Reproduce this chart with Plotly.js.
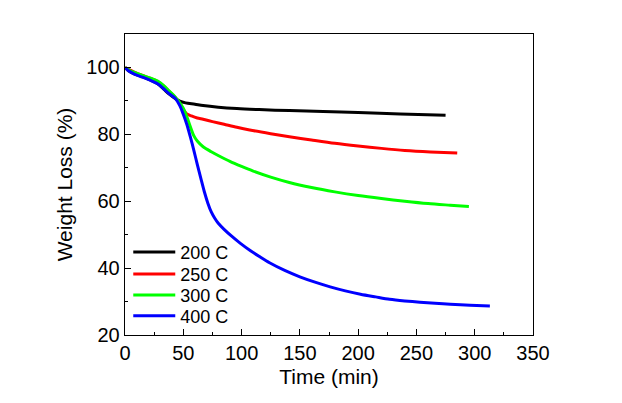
<!DOCTYPE html>
<html>
<head>
<meta charset="utf-8">
<script src="https://cdn.plot.ly/plotly-3.0.1.min.js"></script>
<style>html,body{margin:0;padding:0;background:#fff;}#chart{width:622px;height:403px;}</style>
</head>
<body>
<div id="chart"></div>
<script>
// Series: temperature labels
const seriesNames = ["200 C", "250 C", "300 C", "400 C"];
const seriesColors = ["#000000", "#ff0000", "#00ff00", "#0000ff"];

// 200 C
const t200 = [0, 3, 8, 15, 22, 28, 33, 38, 43, 47, 52, 60, 67, 80, 96, 115, 141, 170, 200, 236, 275];
const w200 = [100, 99.0, 98.1, 97.2, 96.2, 95.1, 93.6, 92.0, 90.7, 89.9, 89.4, 89.0, 88.6, 88.1, 87.7, 87.4, 87.1, 86.8, 86.5, 86.1, 85.7];

// 250 C
const t250 = [0, 3, 8, 15, 22, 28, 33, 38, 43, 47, 50, 53, 57, 62, 67, 75, 85, 96, 107, 125, 141, 160, 180, 200, 220, 240, 262, 285];
const w250 = [100, 99.4, 98.6, 97.6, 96.7, 95.8, 94.5, 92.8, 91.1, 89.2, 87.4, 86.1, 85.5, 84.9, 84.5, 83.8, 83.0, 82.1, 81.3, 80.2, 79.3, 78.3, 77.3, 76.5, 75.8, 75.2, 74.75, 74.4];

// 300 C
const t300 = [0, 3, 8, 15, 22, 28, 33, 38, 43, 47, 50, 53, 56, 59, 62, 67, 74, 82, 90, 100, 110, 125, 141, 160, 180, 200, 220, 240, 260, 279, 295];
const w300 = [100, 99.3, 98.5, 97.6, 96.8, 95.9, 94.6, 92.9, 91.2, 89.4, 87.8, 85.3, 82.3, 79.6, 78.0, 76.3, 74.8, 73.3, 71.9, 70.4, 69.0, 67.2, 65.6, 64.1, 62.8, 61.7, 60.8, 60.0, 59.3, 58.8, 58.4];

// 400 C
const t400 = [0, 3, 8, 15, 22, 28, 33, 38, 43, 47, 50, 53, 56, 59, 62, 65, 68, 71, 74, 77, 80, 85, 92, 99, 108, 116, 124, 137, 150, 163, 176, 189, 202, 215, 227, 240, 253, 266, 279, 296, 313];
const w400 = [100, 99.0, 98.0, 97.1, 96.1, 95.1, 93.7, 92.1, 90.8, 88.6, 86.0, 83.0, 79.3, 75.3, 71.0, 66.9, 62.9, 59.5, 56.8, 54.9, 53.4, 51.6, 49.4, 47.4, 45.1, 43.3, 41.6, 39.3, 37.4, 35.8, 34.4, 33.2, 32.2, 31.4, 30.7, 30.2, 29.8, 29.5, 29.2, 28.9, 28.7];

const xs = [t200, t250, t300, t400];
const ys = [w200, w250, w300, w400];

const font = "Liberation Sans, Arial, sans-serif";
const legendIds = ["legend", "legend2", "legend3", "legend4"];
const legendRowY = [0.275, 0.202, 0.132, 0.063];

const traces = seriesNames.map((n, i) => ({
  x: xs[i], y: ys[i], name: n, type: "scatter", mode: "lines",
  legend: legendIds[i],
  line: {color: seriesColors[i], width: 3, shape: "spline", smoothing: 0.8}
}));

const axisCommon = {
  showline: true, linecolor: "#000", linewidth: 1.3, mirror: true,
  ticks: "inside", ticklen: 6, tickwidth: 1, tickcolor: "#000",
  showgrid: false, zeroline: false,
  tickfont: {family: font, size: 20, color: "#000"}
};

const layout = {
  width: 622, height: 403,
  margin: {l: 125, r: 89, t: 34, b: 68},
  paper_bgcolor: "#fff", plot_bgcolor: "#fff",
  showlegend: true,
  xaxis: Object.assign({}, axisCommon, {
    range: [0, 350], dtick: 50, tick0: 0,
    minor: {ticks: "inside", dtick: 25, ticklen: 3, tickcolor: "#000"},
    title: {text: "Time (min)", font: {family: font, size: 21, color: "#000"}, standoff: 6}
  }),
  yaxis: Object.assign({}, axisCommon, {
    range: [20, 110], dtick: 20, tick0: 20,
    minor: {ticks: "inside", dtick: 10, ticklen: 3, tickcolor: "#000"},
    title: {text: "Weight Loss (%)", font: {family: font, size: 21, color: "#000"}, standoff: 8}
  })
};
legendIds.forEach((id, i) => {
  layout[id] = {x: 0.008, y: legendRowY[i], xanchor: "left", yanchor: "middle",
    font: {family: font, size: 18, color: "#000"},
    bgcolor: "rgba(0,0,0,0)", borderwidth: 0, itemwidth: 42};
});

Plotly.newPlot("chart", traces, layout, {displayModeBar: false, staticPlot: true});
</script>
</body>
</html>
